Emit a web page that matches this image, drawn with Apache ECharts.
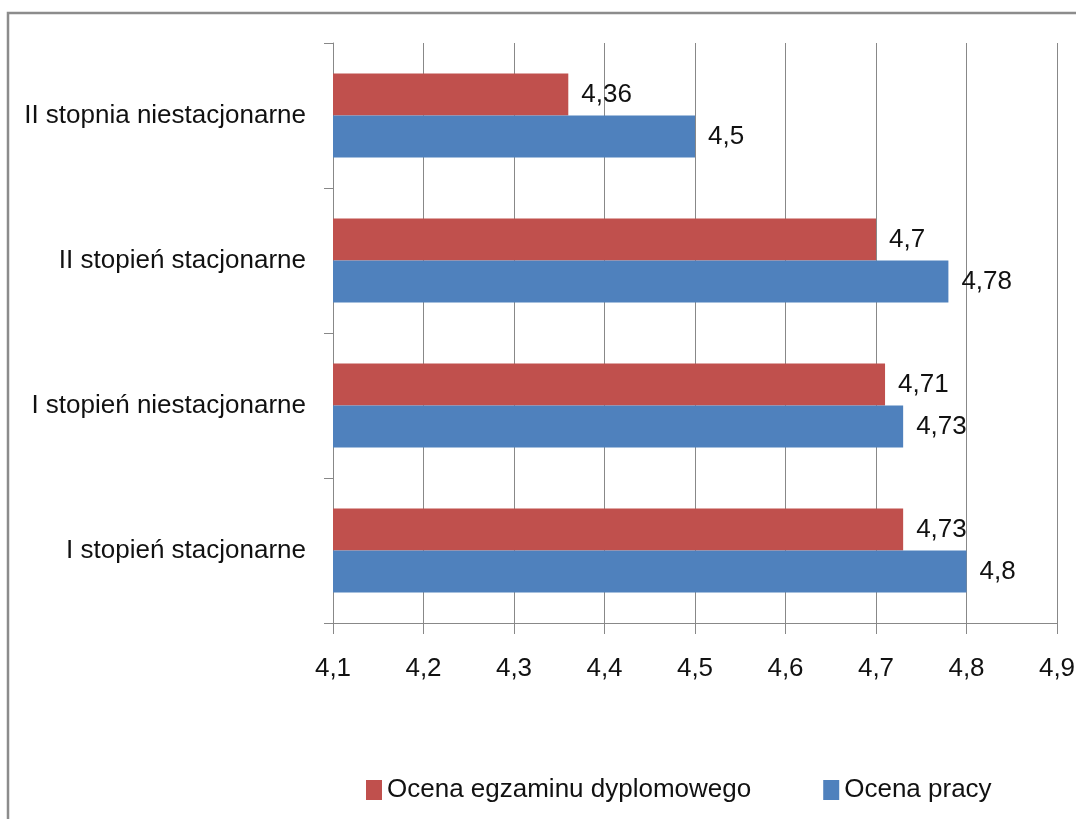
<!DOCTYPE html>
<html>
<head>
<meta charset="utf-8">
<script src="https://cdn.jsdelivr.net/npm/echarts@6/dist/echarts.min.js"></script>
<style>
html,body{margin:0;padding:0;background:#fff;}
#chart{width:1076px;height:819px;}
</style>
</head>
<body>
<div id="chart"></div>
<script>
const categories = ['I stopień stacjonarne', 'I stopień niestacjonarne', 'II stopień stacjonarne', 'II stopnia niestacjonarne'];
const seriesNames = ['Ocena egzaminu dyplomowego', 'Ocena pracy'];
const egzaminValues = [4.73, 4.71, 4.7, 4.36];
const pracaValues = [4.8, 4.73, 4.78, 4.5];
const xMin = 4.1, xMax = 4.9, xStep = 0.1;

const FONT = '"Liberation Sans Narrow", "Liberation Sans", Arial, sans-serif';
const FS = 26;
const fmt = v => String(Math.round(v * 100) / 100).replace('.', ',');

const chart = echarts.init(document.getElementById('chart'));
chart.setOption({
  animation: false,
  backgroundColor: '#fff',
  graphic: [{
    type: 'rect',
    shape: { x: 8, y: 13, width: 1200, height: 1000 },
    style: { fill: 'none', stroke: '#8c8c8c', lineWidth: 2.5 },
    silent: true
  }],
  grid: { left: 333, right: 19, top: 43, bottom: 196, containLabel: false, outerBoundsMode: 'none' },
  legend: {
    data: [seriesNames[0], seriesNames[1]],
    left: 361, top: 772,
    icon: 'rect', itemWidth: 16, itemHeight: 20, itemGap: 72,
    textStyle: { fontFamily: FONT, fontSize: FS, color: '#111' }
  },
  xAxis: {
    type: 'value', min: xMin, max: xMax, interval: xStep,
    axisLine: { show: true, lineStyle: { color: '#888', width: 1 } },
    axisTick: { show: true, length: 11, lineStyle: { color: '#888' } },
    splitLine: { show: true, lineStyle: { color: '#888', width: 1 } },
    axisLabel: { formatter: v => fmt(v), fontFamily: FONT, fontSize: FS, color: '#111', margin: 33 }
  },
  yAxis: {
    type: 'category', data: categories,
    axisLine: { show: true, lineStyle: { color: '#888', width: 1 } },
    axisTick: { show: true, length: 9, lineStyle: { color: '#888' } },
    axisLabel: { fontFamily: FONT, fontSize: FS, color: '#111', margin: 27 }
  },
  series: [
    {
      name: seriesNames[0], type: 'bar', data: egzaminValues,
      itemStyle: { color: '#C0504D' },
      barGap: '0%', barCategoryGap: '42%',
      label: { show: true, position: 'right', distance: 13, formatter: p => fmt(p.value), fontFamily: FONT, fontSize: FS, color: '#111' }
    },
    {
      name: seriesNames[1], type: 'bar', data: pracaValues,
      itemStyle: { color: '#4F81BD' },
      barGap: '0%', barCategoryGap: '42%',
      label: { show: true, position: 'right', distance: 13, formatter: p => fmt(p.value), fontFamily: FONT, fontSize: FS, color: '#111' }
    }
  ]
});
</script>
</body>
</html>
